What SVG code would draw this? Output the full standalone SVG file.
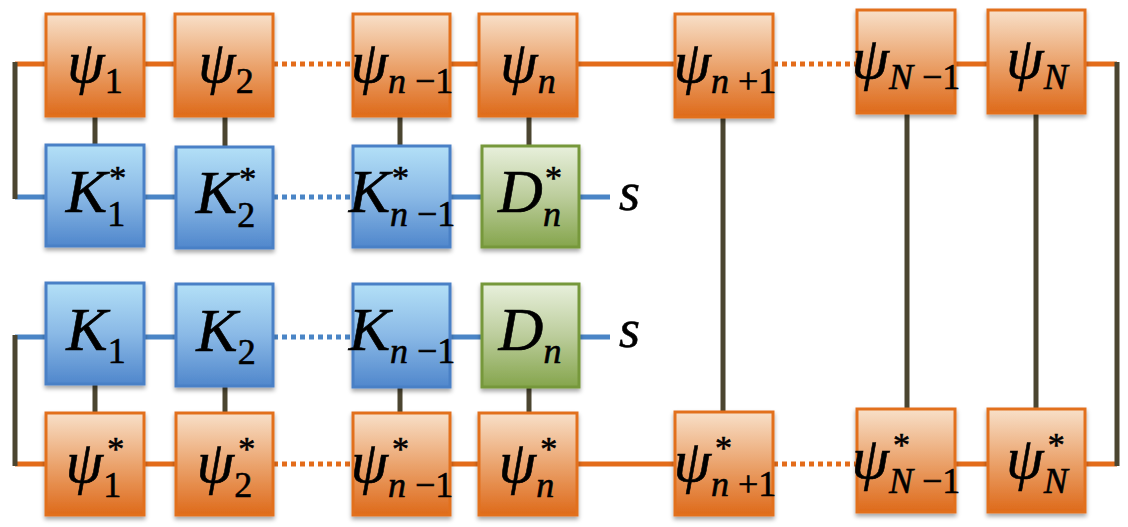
<svg xmlns="http://www.w3.org/2000/svg" width="1128" height="527" viewBox="0 0 1128 527">
<defs>
<linearGradient id="gO" x1="0" y1="0" x2="0" y2="1"><stop offset="0" stop-color="#f8e0c9"/><stop offset="0.5" stop-color="#eba46e"/><stop offset="1" stop-color="#de6a1a"/></linearGradient>
<linearGradient id="gB" x1="0" y1="0" x2="0" y2="1"><stop offset="0" stop-color="#b3e0f7"/><stop offset="0.5" stop-color="#8ab9e6"/><stop offset="1" stop-color="#5087cc"/></linearGradient>
<linearGradient id="gG" x1="0" y1="0" x2="0" y2="1"><stop offset="0" stop-color="#e8f0dc"/><stop offset="0.5" stop-color="#bccd9c"/><stop offset="1" stop-color="#85a54c"/></linearGradient>
<filter id="sh" x="-10%" y="-10%" width="125%" height="130%"><feDropShadow dx="0" dy="3" stdDeviation="2" flood-color="#000" flood-opacity="0.35"/></filter>
<style>
.o{fill:url(#gO);stroke:#e2701f;stroke-width:3;filter:url(#sh)}
.b{fill:url(#gB);stroke:#4a80c6;stroke-width:3;filter:url(#sh)}
.g{fill:url(#gG);stroke:#76983a;stroke-width:3;filter:url(#sh)}
.lo{stroke:#e36c1a;stroke-width:5;fill:none}
.lb{stroke:#4a85c6;stroke-width:5;fill:none}
.ld{stroke:#4b4530;stroke-width:5;fill:none}
.dash{stroke-dasharray:5 4}
text{font-family:"Liberation Serif","DejaVu Serif",serif;font-style:italic;fill:#000;stroke:#000;stroke-width:0.6;text-anchor:middle}
.p{font-size:60px}
.k{font-size:62px}
.sub{font-size:36px}
.up{font-style:normal}
.ast{font-size:34px;font-style:normal}
.s{font-size:54px;text-anchor:start}
</style>
</defs>
<g id="connectors">
<path class="lo" d="M15 64H175M450 64H675M955 64H1117"/>
<path class="lo dash" d="M273 64H353M773 64H857"/>
<path class="lo" d="M15 464H175M450 464H675M955 464H1117"/>
<path class="lo dash" d="M273 464H353M773 464H857"/>
<path class="lb" d="M15 197H176M450 197H610"/>
<path class="lb dash" d="M273 197H353"/>
<path class="lb" d="M15 337H176M450 337H610"/>
<path class="lb dash" d="M273 337H353"/>
<path class="ld" d="M15 62V199M15 335V466M1117 62V466"/>
<path class="ld" d="M95 116V145M225 116V147M400 116V146M529 116V146"/>
<path class="ld" d="M95 385V413M225 386V413M400 387V413M529 387V413"/>
<path class="ld" d="M723 117V412M907 113V409M1036 113V409"/>
</g>
<g id="psi1"><rect class="o" x="46" y="14" width="98" height="102"/><text class="p" x="95" y="82">ψ<tspan class="sub up" dy="11">1</tspan></text></g>
<g id="psi2"><rect class="o" x="175" y="14" width="98" height="102"/><text class="p" x="226" y="82">ψ<tspan class="sub up" dy="11">2</tspan></text></g>
<g id="psin-1"><rect class="o" x="353" y="14" width="97" height="102"/><text class="p" x="402" y="82">ψ<tspan class="sub" dy="11">n</tspan><tspan class="sub up"> −1</tspan></text></g>
<g id="psin"><rect class="o" x="479" y="14" width="98" height="102"/><text class="p" x="528" y="82">ψ<tspan class="sub" dy="11">n</tspan></text></g>
<g id="psin+1"><rect class="o" x="675" y="14" width="98" height="103"/><text class="p" x="725" y="82">ψ<tspan class="sub" dy="11">n</tspan><tspan class="sub up"> +1</tspan></text></g>
<g id="psiN-1"><rect class="o" x="857" y="10" width="98" height="103"/><text class="p" x="906" y="78">ψ<tspan class="sub" dy="11">N</tspan><tspan class="sub up"> −1</tspan></text></g>
<g id="psiN"><rect class="o" x="988" y="10" width="97" height="103"/><text class="p" x="1037" y="78">ψ<tspan class="sub" dy="11">N</tspan></text></g>

<g id="K1s"><rect class="b" x="46" y="145" width="98" height="101"/><text class="k" x="96" y="212">K<tspan class="ast" dx="2" dy="-23">*</tspan><tspan class="sub up" dx="-19" dy="37">1</tspan></text></g>
<g id="K2s"><rect class="b" x="176" y="147" width="97" height="101"/><text class="k" x="226" y="213">K<tspan class="ast" dx="2" dy="-23">*</tspan><tspan class="sub up" dx="-19" dy="37">2</tspan></text></g>
<g id="Kn-1s"><rect class="b" x="353" y="146" width="97" height="101"/><text class="k" x="402" y="212">K<tspan class="ast" dx="2" dy="-23">*</tspan><tspan class="sub" dx="-19" dy="37">n</tspan><tspan class="sub up"> −1</tspan></text></g>
<g id="Dns"><rect class="g" x="482" y="146" width="97" height="101"/><text class="k" x="530" y="212">D<tspan class="ast" dx="2" dy="-23">*</tspan><tspan class="sub" dx="-19" dy="37">n</tspan></text></g>
<text class="s" x="619" y="210">s</text>

<g id="K1"><rect class="b" x="46" y="283" width="98" height="101"/><text class="k" x="96" y="350">K<tspan class="sub up" dy="13">1</tspan></text></g>
<g id="K2"><rect class="b" x="176" y="284" width="97" height="102"/><text class="k" x="226" y="351">K<tspan class="sub up" dy="13">2</tspan></text></g>
<g id="Kn-1"><rect class="b" x="353" y="284" width="97" height="103"/><text class="k" x="402" y="350">K<tspan class="sub" dy="13">n</tspan><tspan class="sub up"> −1</tspan></text></g>
<g id="Dn"><rect class="g" x="482" y="284" width="97" height="103"/><text class="k" x="530" y="350">D<tspan class="sub" dy="13">n</tspan></text></g>
<text class="s" x="619" y="347">s</text>

<g id="psi1s"><rect class="o" x="46" y="413" width="98" height="102"/><text class="p" x="95" y="482">ψ<tspan class="ast" dx="4" dy="-22">*</tspan><tspan class="sub up" dx="-21" dy="37">1</tspan></text></g>
<g id="psi2s"><rect class="o" x="176" y="413" width="97" height="102"/><text class="p" x="226" y="482">ψ<tspan class="ast" dx="4" dy="-22">*</tspan><tspan class="sub up" dx="-21" dy="37">2</tspan></text></g>
<g id="psin-1s"><rect class="o" x="353" y="413" width="97" height="102"/><text class="p" x="402" y="482">ψ<tspan class="ast" dx="4" dy="-22">*</tspan><tspan class="sub" dx="-21" dy="37">n</tspan><tspan class="sub up"> −1</tspan></text></g>
<g id="psins"><rect class="o" x="479" y="413" width="98" height="102"/><text class="p" x="528" y="482">ψ<tspan class="ast" dx="4" dy="-22">*</tspan><tspan class="sub" dx="-21" dy="37">n</tspan></text></g>
<g id="psin+1s"><rect class="o" x="675" y="412" width="98" height="103"/><text class="p" x="725" y="481">ψ<tspan class="ast" dx="4" dy="-22">*</tspan><tspan class="sub" dx="-21" dy="37">n</tspan><tspan class="sub up"> +1</tspan></text></g>
<g id="psiN-1s"><rect class="o" x="857" y="409" width="98" height="103"/><text class="p" x="906" y="478">ψ<tspan class="ast" dx="4" dy="-22">*</tspan><tspan class="sub" dx="-21" dy="37">N</tspan><tspan class="sub up"> −1</tspan></text></g>
<g id="psiNs"><rect class="o" x="988" y="409" width="97" height="103"/><text class="p" x="1037" y="478">ψ<tspan class="ast" dx="4" dy="-22">*</tspan><tspan class="sub" dx="-21" dy="37">N</tspan></text></g>
</svg>
